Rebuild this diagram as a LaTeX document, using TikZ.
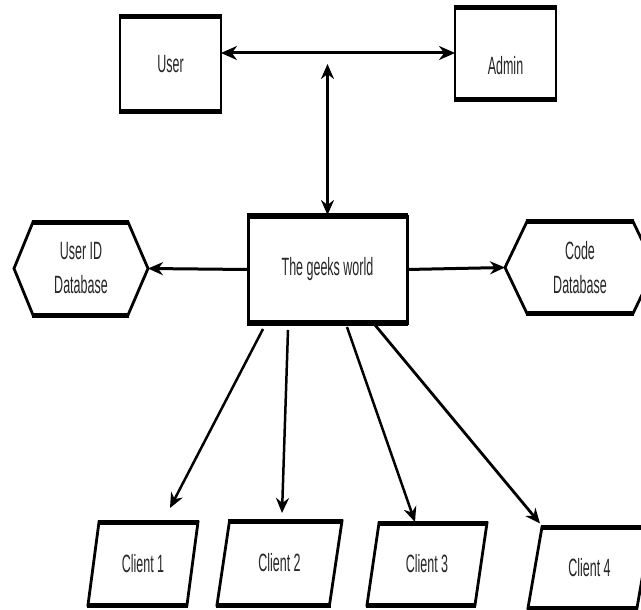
\documentclass[tikz,border=0pt]{standalone}
\usepackage{fontspec}
\setmainfont{Liberation Sans}[FakeStretch=0.5]
\usetikzlibrary{arrows.meta}
\begin{document}
\begin{tikzpicture}[x=1pt,y=-1pt,
  lbl/.style={inner sep=0pt,outer sep=0pt,font=\fontsize{25}{34}\selectfont,align=center,text=black!85},
  side/.style={line width=2.8pt,line join=miter},
  edge/.style={line width=5pt,line cap=butt,shorten <=-1.4pt,shorten >=-1.4pt},
  arr/.style={line width=2.5pt,-{Stealth[length=15pt,width=13pt]}},
  darr/.style={line width=3pt,{Stealth[length=16pt,width=14pt]}-{Stealth[length=16pt,width=14pt]}}
]
\useasboundingbox (0,0) rectangle (641,610);
\fill[white] (0,0) rectangle (641,610);

% rectangles
\node[lbl,minimum width=101pt,minimum height=95pt] (user) at (170.5,64.5) {User};
\draw[side] (user.north west) rectangle (user.south east);
\draw[edge] (user.north west) -- (user.north east);
\draw[edge] (user.south west) -- (user.south east);

\node[lbl,minimum width=101pt,minimum height=92pt] (admin) at (505.5,66) {Admin};
\draw[side] ([yshift=12pt]admin.north west) rectangle ([yshift=12pt]admin.south east);
\draw[edge] ([yshift=12pt]admin.north west) -- ([yshift=12pt]admin.north east);
\draw[edge] ([yshift=12pt]admin.south west) -- ([yshift=12pt]admin.south east);

\node[lbl,minimum width=159pt,minimum height=107pt] (geeks) at (327.5,269.5) {The geeks world};
\draw[side,line width=3pt] (geeks.north west) rectangle (geeks.south east);
\draw[edge,line width=5.5pt] (geeks.north west) -- (geeks.north east);
\draw[edge,line width=5.5pt] (geeks.south west) -- (geeks.south east);

% hexagons
\node[lbl,minimum width=134pt,minimum height=93pt] (userdb) at (81,268.5) {User ID\\Database};
\draw[side] (userdb.west) -- ([xshift=19pt]userdb.north west) -- ([xshift=-20pt]userdb.north east)
  -- (userdb.east) -- ([xshift=-20pt]userdb.south east) -- ([xshift=19pt]userdb.south west) -- cycle;
\draw[edge] ([xshift=19pt]userdb.north west) -- ([xshift=-20pt]userdb.north east);
\draw[edge] ([xshift=19pt]userdb.south west) -- ([xshift=-20pt]userdb.south east);

\node[lbl,minimum width=150pt,minimum height=92pt] (codedb) at (580,267.5) {Code\\Database};
\draw[side] (codedb.west) -- ([xshift=22pt]codedb.north west) -- ([xshift=-22pt]codedb.north east)
  -- (codedb.east) -- ([xshift=-22pt]codedb.south east) -- ([xshift=22pt]codedb.south west) -- cycle;
\draw[edge] ([xshift=22pt]codedb.north west) -- ([xshift=-22pt]codedb.north east);
\draw[edge] ([xshift=22pt]codedb.south west) -- ([xshift=-22pt]codedb.south east);

% clients (parallelograms)
\node[lbl,minimum width=110pt,minimum height=83pt] (c1) at (143,563.5) {Client 1};
\draw[side] ([xshift=11pt]c1.north west) -- (c1.north east) -- ([xshift=-11pt]c1.south east) -- (c1.south west) -- cycle;
\draw[edge] ([xshift=11pt]c1.north west) -- (c1.north east);
\draw[edge] (c1.south west) -- ([xshift=-11pt]c1.south east);

\node[lbl,minimum width=125pt,minimum height=84pt] (c2) at (279.5,563) {Client 2};
\draw[side] ([xshift=12.5pt]c2.north west) -- (c2.north east) -- ([xshift=-12.5pt]c2.south east) -- (c2.south west) -- cycle;
\draw[edge] ([xshift=12.5pt]c2.north west) -- (c2.north east);
\draw[edge] (c2.south west) -- ([xshift=-12.5pt]c2.south east);

\node[lbl,minimum width=120pt,minimum height=82pt] (c3) at (427,564) {Client 3};
\draw[side] ([xshift=12pt]c3.north west) -- (c3.north east) -- ([xshift=-12pt]c3.south east) -- (c3.south west) -- cycle;
\draw[edge] ([xshift=12pt]c3.north west) -- (c3.north east);
\draw[edge] (c3.south west) -- ([xshift=-12pt]c3.south east);

\node[lbl,minimum width=123pt,minimum height=81pt] (c4) at (589.5,567.5) {Client 4};
\draw[side] ([xshift=14pt]c4.north west) -- (c4.north east) -- ([xshift=-14pt]c4.south east) -- (c4.south west) -- cycle;
\draw[edge] ([xshift=14pt]c4.north west) -- (c4.north east);
\draw[edge] (c4.south west) -- ([xshift=-14pt]c4.south east);

% connectors
\draw[darr] ([yshift=11.5pt]user.east) -- ([yshift=13pt]admin.west);
\coordinate (mid) at (327.5,64);
\draw[line width=2.4pt,{Stealth[length=15pt,width=13pt]}-{Stealth[length=15pt,width=13pt]}] (mid) -- ([yshift=1pt]geeks.north);
\draw[arr,line width=3pt] (geeks.west) -- (userdb.east);
\draw[arr,line width=3pt] (geeks.east) -- (codedb.west);

\draw[arr] ([xshift=15pt,yshift=-6pt]geeks.south west) -- ([xshift=82pt,yshift=14pt]c1.north west);
\draw[arr] ([xshift=40pt,yshift=-7pt]geeks.south west) -- ([xshift=65pt,yshift=8pt]c2.north west);
\draw[arr] ([xshift=99pt,yshift=-4pt]geeks.south west) -- ([xshift=48pt,yshift=1pt]c3.north west);
\draw[arr,line width=2.8pt] ([xshift=127pt,yshift=-2pt]geeks.south west) -- ([xshift=12pt,yshift=3.5pt]c4.north west);
\end{tikzpicture}
\end{document}
